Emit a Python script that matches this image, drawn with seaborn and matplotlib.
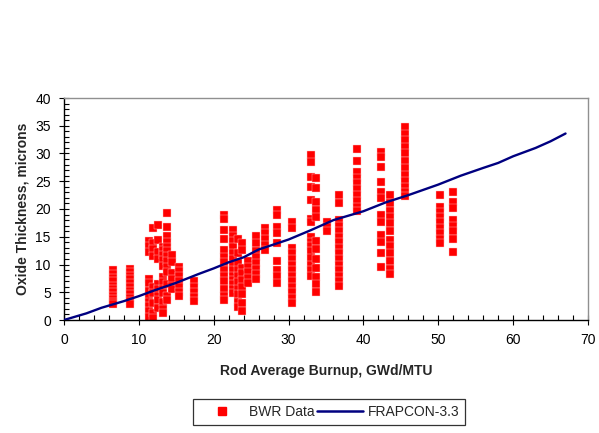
import matplotlib
matplotlib.use("Agg")
import matplotlib.pyplot as plt
from matplotlib.ticker import MultipleLocator
from matplotlib.lines import Line2D
import numpy as np
import pandas as pd
import seaborn as sns

# BWR measured oxide thickness, grouped by rod average burnup (GWd/MTU)
column_burnup = [6.5, 8.8, 11.4, 11.9, 12.5, 13.2, 13.8, 14.4, 15.4, 17.4,
                 21.4, 22.6, 23.2, 23.8, 24.6, 25.7, 26.9, 28.5, 30.5, 33.0,
                 33.6, 35.1, 36.7, 39.2, 42.3, 43.6, 45.5, 50.2, 51.9]
column_oxide = [
    [9.0, 8.3, 7.6, 7.0, 6.2, 5.6, 5.0, 4.4, 3.8, 3.2, 2.8],
    [9.2, 8.6, 8.0, 7.4, 6.7, 6.0, 5.3, 4.7, 4.0, 3.4, 2.9],
    [14.2, 13.4, 12.3, 7.4, 6.6, 5.2, 4.2, 3.3, 2.5, 1.6, 0.6],
    [16.6, 13.9, 12.8, 11.6, 6.0, 4.8, 3.0, 1.2, 0.3],
    [17.2, 14.4, 12.2, 11.0, 6.4, 5.6, 4.4, 3.6, 2.2],
    [13.2, 12.6, 11.8, 10.8, 9.8, 7.8, 6.8, 5.6, 4.8, 3.2, 2.0, 1.2],
    [19.2, 16.8, 15.2, 14.0, 13.2, 12.4, 11.6, 10.6, 9.6, 8.6, 6.4, 4.4, 3.6],
    [11.8, 10.4, 8.4, 7.4, 6.2, 5.6],
    [9.6, 8.8, 8.0, 7.0, 6.0, 5.0, 4.4],
    [7.0, 6.0, 5.0, 4.2, 3.4],
    [19.0, 18.2, 16.2, 14.6, 12.6, 11.4, 10.4, 9.0, 8.0, 7.0, 5.6, 4.4, 3.6],
    [16.2, 15.2, 14.2, 13.2, 12.0, 11.0, 10.0, 9.0, 8.0, 7.2, 6.4, 5.6, 4.8],
    [14.6, 12.0, 10.2, 9.0, 8.0, 6.8, 5.6, 4.6, 3.2, 2.4],
    [13.8, 12.6, 9.4, 8.4, 7.2, 6.0, 4.6, 3.0, 1.6],
    [10.6, 9.6, 8.6, 7.6, 6.6],
    [15.2, 13.8, 12.4, 11.4, 10.2, 9.2, 8.2, 7.4],
    [16.6, 15.6, 14.6, 13.6, 12.6],
    [19.8, 19.0, 16.8, 15.6, 13.8, 10.6, 9.0, 8.0, 6.6],
    [17.6, 16.6, 13.0, 12.0, 11.0, 10.0, 9.0, 8.0, 7.0, 6.0, 5.0, 4.0, 3.0],
    [29.8, 28.4, 25.8, 24.0, 21.6, 18.2, 17.6, 15.0, 14.0, 13.4, 12.4, 11.2, 10.0, 9.0, 8.0],
    [25.6, 23.8, 21.2, 19.8, 18.6, 14.2, 12.8, 11.0, 9.4, 7.8, 6.4, 5.0],
    [17.6, 16.8, 16.0],
    [22.6, 21.0, 18.0, 17.0, 16.0, 15.0, 14.0, 13.0, 12.0, 11.0, 10.0, 9.0, 8.0, 7.0, 6.2],
    [30.8, 28.6, 26.6, 25.6, 24.6, 23.6, 22.6, 21.4, 20.4, 19.6],
    [30.3, 29.4, 27.6, 24.9, 23.1, 22.0, 18.9, 17.7, 15.3, 14.0, 12.1, 9.5],
    [22.6, 21.0, 19.6, 18.6, 17.4, 16.0, 14.4, 13.4, 12.0, 10.6, 9.2, 8.2],
    [34.8, 33.6, 32.4, 31.2, 30.0, 28.6, 27.4, 26.2, 25.0, 24.0, 23.0, 22.4],
    [22.6, 20.4, 19.4, 18.6, 17.6, 16.6, 15.6, 14.6, 13.8],
    [23.0, 21.2, 20.2, 18.0, 17.0, 16.0, 14.6, 12.2],
]

# FRAPCON-3.3 predicted oxide thickness
frapcon_burnup = [0, 3, 5, 8, 10, 12, 15, 18, 20, 22, 24, 26, 28, 30, 33, 36,
                  38, 40, 43, 46, 50, 53, 56, 58, 60, 63, 65, 67]
frapcon_oxide = [0.0, 1.2, 2.2, 3.4, 4.3, 5.3, 6.7, 8.3, 9.3, 10.4, 11.3, 12.7,
                 13.6, 14.5, 16.2, 18.0, 18.8, 19.6, 21.2, 22.5, 24.4, 26.0,
                 27.4, 28.3, 29.5, 31.0, 32.2, 33.6]

bwr = pd.DataFrame({
    "burnup": np.concatenate([[b] * len(o) for b, o in zip(column_burnup, column_oxide)]),
    "oxide": np.concatenate(column_oxide),
})
model = pd.DataFrame({"burnup": frapcon_burnup, "oxide": frapcon_oxide})

sns.set_style("white")
plt.rcParams["font.family"] = ["Liberation Sans", "DejaVu Sans"]

fig = plt.figure(figsize=(5.99, 4.33), dpi=100)
ax = fig.add_axes([64 / 599, 1 - 320 / 433, (588 - 64) / 599, (320 - 98) / 433])

sns.scatterplot(data=bwr, x="burnup", y="oxide", ax=ax, marker="s", s=32,
                color="#FF0000", edgecolor="#FFC4C4", linewidth=0.3, zorder=2)
sns.lineplot(data=model, x="burnup", y="oxide", ax=ax, color="#000080",
             linewidth=1.7, zorder=3)

ax.set_xlim(0, 70)
ax.set_ylim(0, 40)
ax.xaxis.set_major_locator(MultipleLocator(10))
ax.xaxis.set_minor_locator(MultipleLocator(2))
ax.yaxis.set_major_locator(MultipleLocator(5))
ax.yaxis.set_minor_locator(MultipleLocator(1))
ax.tick_params(which="major", direction="inout", length=7, width=0.8,
               color="black", labelsize=10, labelcolor="black", pad=6)
ax.tick_params(which="minor", direction="in", length=3.5, width=0.8, color="black")
ax.tick_params(axis="x", which="both", bottom=True, top=False)
ax.tick_params(axis="y", which="both", left=True, right=False)

for side in ("left", "bottom"):
    ax.spines[side].set_color("black")
    ax.spines[side].set_linewidth(1.0)
for side in ("top", "right"):
    ax.spines[side].set_color("#909090")
    ax.spines[side].set_linewidth(1.0)

ax.set_xlabel("Rod Average Burnup, GWd/MTU", fontsize=10, fontweight="bold", labelpad=12)
ax.set_ylabel("Oxide Thickness, microns", fontsize=10, fontweight="bold", labelpad=4)

handles = [
    Line2D([], [], marker="s", linestyle="none", color="#FF0000", markersize=6),
    Line2D([], [], color="#000080", linewidth=1.8),
]
leg = fig.legend(handles, ["BWR Data", "FRAPCON-3.3"], loc="center",
                 bbox_to_anchor=(329 / 599, 1 - 412 / 433), ncol=2, fontsize=10,
                 frameon=True, fancybox=False, shadow=False, handlelength=3.3,
                 handletextpad=0.3, columnspacing=0.2, borderpad=0.45)
leg.get_frame().set_edgecolor("black")
leg.get_frame().set_linewidth(0.9)

fig.savefig("out.png", dpi=100)
